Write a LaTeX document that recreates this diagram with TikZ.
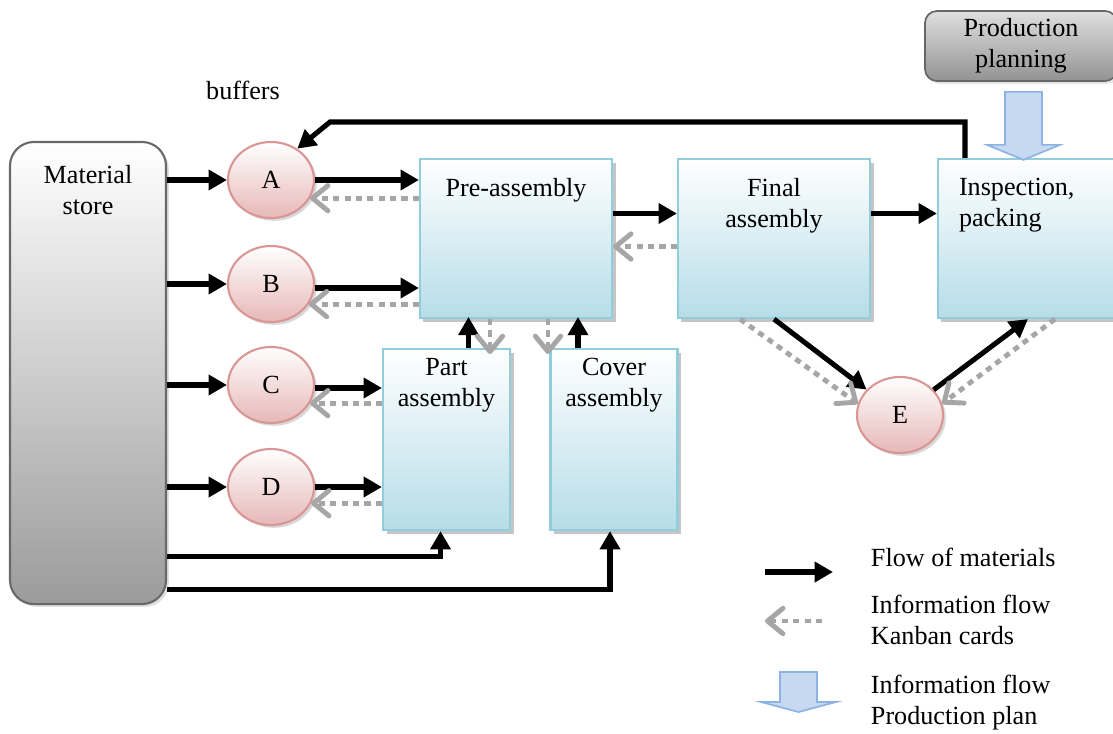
\documentclass[tikz,border=0pt]{standalone}
\usepackage{fontspec}
\setmainfont{Liberation Serif}
\usetikzlibrary{shapes.geometric, arrows.meta, positioning, calc, shadows}
\definecolor{stageedge}{RGB}{146,205,221}
\definecolor{stagefill}{RGB}{182,221,232}
\definecolor{bufferedge}{RGB}{217,150,148}
\definecolor{bufferfill}{RGB}{230,184,183}
\definecolor{storeedge}{RGB}{105,105,105}
\definecolor{storefill}{RGB}{155,155,155}
\definecolor{kanbangray}{RGB}{166,166,166}
\definecolor{planfill}{RGB}{198,217,241}
\definecolor{planedge}{RGB}{141,179,226}
\tikzset{
  every node/.style={font=\fontsize{18.6}{22}\selectfont},
  stage/.style={draw=stageedge, line width=1.5pt, top color=white, bottom color=stagefill,
    drop shadow={shadow xshift=2.5pt, shadow yshift=-2.5pt, fill=black!45}, inner sep=0pt},
  buffer/.style={ellipse, draw=bufferedge, line width=1.5pt, top color=white, bottom color=bufferfill,
    drop shadow={shadow xshift=2pt, shadow yshift=-2pt, fill=black!30},
    minimum width=2.15cm, minimum height=1.9cm, inner sep=0pt},
  steptext/.style={anchor=north, align=center, inner sep=0pt},
  flow/.style={line width=3.6pt, -{Triangle[length=13pt, width=14pt]}},
  kanban/.style={kanbangray, line width=3.5pt, dash pattern=on 4.3pt off 3.8pt,
    -{Straight Barb[round, length=11pt, width=18pt]}},
  planarrow/.style={draw=planedge, line width=1.2pt, fill=planfill}
}
\begin{document}
\begin{tikzpicture}[x=0.025cm, y=-0.025cm]
\useasboundingbox (0,0) rectangle (1113,733);
% Material store and production planning
\node[draw=storeedge, line width=1.5pt, rounded corners=0.6cm, top color=white, bottom color=storefill,
  drop shadow={shadow xshift=2pt, shadow yshift=-2pt, fill=black!25},
  minimum width=3.9cm, minimum height=11.55cm,
  label={[steptext, yshift=-17pt]north:Material\\store}] (store) at (88,373) {};
\node[draw=black!60, line width=1.2pt, rounded corners=0.3cm, top color=gray!25, bottom color=gray!85,
  drop shadow={shadow xshift=2pt, shadow yshift=-2pt, fill=black!20},
  minimum width=4.8cm, minimum height=1.75cm, align=center] (plan) at (1021,46) {Production\\planning};
% Buffers
\node (buflabel) at (243,90) {buffers};
\node[buffer] (A) at (271,180) {A};
\node[buffer] (B) at (271,284) {B};
\node[buffer] (C) at (271,385) {C};
\node[buffer] (D) at (271,487) {D};
\node[buffer] (E) at (900,415) {E};
% Assembly stages
\node[stage, minimum width=4.8cm, minimum height=3.975cm,
  label={[steptext, yshift=-14.5pt]north:Pre-assembly}] (pre) at (516,238.5) {};
\node[stage, minimum width=4.8cm, minimum height=3.975cm,
  label={[steptext, yshift=-14.5pt]north:Final\\assembly}] (final) at (774,238.5) {};
\node[stage, minimum width=4.8cm, minimum height=3.975cm,
  label={[steptext, anchor=north west, align=left, xshift=15.5pt, yshift=-14.5pt]north west:Inspection,\\packing}] (insp) at (1034,238.5) {};
\node[stage, minimum width=3.175cm, minimum height=4.525cm,
  label={[steptext, yshift=-7pt]north:Part\\assembly}] (part) at (446.5,439.5) {};
\node[stage, minimum width=3.175cm, minimum height=4.525cm,
  label={[steptext, yshift=-7pt]north:Cover\\assembly}] (cover) at (614,439.5) {};
% Production plan arrow
\draw[planarrow] ($(plan.south)+(-16,10)$) -- ++(37,0) -- ++(0,53) -- ++(18,0) -- ++(-36.5,15)
  -- ++(-36.5,-15) -- ++(18,0) -- cycle;
% Material flows
\foreach \buf in {A,B,C,D}
  \draw[flow] (store.east |- \buf.west) -- (\buf.west);
\draw[flow] (A.east) -- (A.east -| pre.west);
\draw[flow] ($(B.east)+(0,4)$) -- ($(B.east -| pre.west)+(0,4)$);
\draw[flow] ($(C.east)+(0,3)$) -- ($(C.east -| part.west)+(0,3)$);
\draw[flow] (D.east) -- (D.east -| part.west);
\draw[flow] ($(store.south east)+(0,-49)$) -| ($(part.south)+(-6,0)$);
\draw[flow] ($(store.south east)+(0,-16)$) -| ($(cover.south)+(-4,0)$);
\draw[flow] ($(part.north)+(22,0)$) -- ($(part.north)+(22,-31)$);
\draw[flow] ($(cover.north)+(-36,0)$) -- ($(cover.north)+(-36,-31)$);
\draw[flow] ($(pre.east)+(0,-25)$) -- ($(final.west)+(0,-25)$);
\draw[flow] ($(final.east)+(0,-25)$) -- ($(insp.west)+(0,-25)$);
\draw[flow] (final.south) -- (E);
\draw[flow] (E) -- ($(insp.south)+(-6,0)$);
\coordinate (bend) at (330,122);
\draw[flow] ($(insp.north)+(-69,0)$) |- (bend) -- (A.50);
% Kanban cards
\draw[kanban] (pre.west |- A.-25) -- (A.-25);
\draw[kanban] (pre.west |- B.-28) -- (B.-28);
\draw[kanban] (part.west |- C.-25) -- (C.-25);
\draw[kanban] (part.west |- D.-22) -- (D.-22);
\draw[kanban] ($(pre.south)+(-26,0)$) -- ($(pre.south)+(-26,35)$);
\draw[kanban] ($(pre.south)+(32,0)$) -- ($(pre.south)+(32,35)$);
\draw[kanban] ($(final.west)+(0,8)$) -- ($(pre.east)+(0,8)$);
\draw[kanban] ($(final.south)+(-34,0)$) -- (E.165);
\draw[kanban] ($(insp.south)+(21,0)$) -- (E.15);
% Legend
\coordinate (flowkeyA) at (765,572);
\coordinate (flowkeyB) at (833,572);
\coordinate (kanbankeyA) at (822,621);
\coordinate (kanbankeyB) at (765,621);
\draw[flow] (flowkeyA) -- (flowkeyB);
\draw[kanban] (kanbankeyA) -- (kanbankeyB);
\draw[planarrow] (780,672) -- (817,672) -- (817,702) -- (836,702) -- (798.5,712) -- (761,702) -- (780,702) -- cycle;
\node[anchor=west] (flowtext) at (866,557) {Flow of materials};
\node[anchor=west, align=left] (kanbantext) at (866,620) {Information flow\\Kanban cards};
\node[anchor=west, align=left] (plantext) at (866,703) {Information flow\\Production plan};
\end{tikzpicture}
\end{document}
